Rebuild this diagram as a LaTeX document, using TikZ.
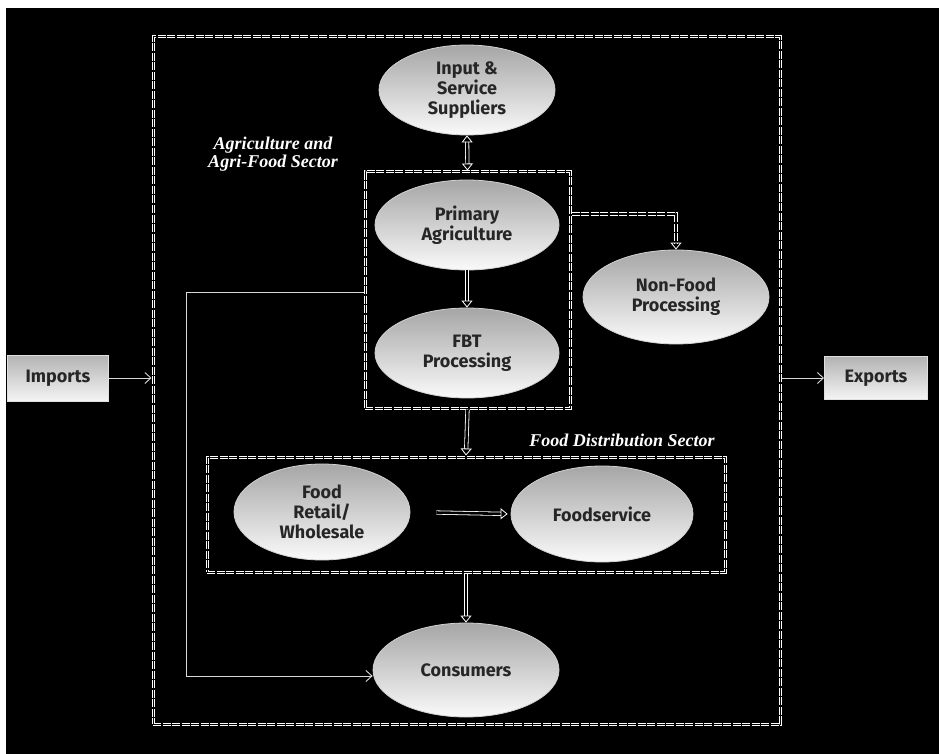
\documentclass[tikz,border=0pt]{standalone}
\usepackage{fontspec}
\setmainfont{Fira Sans}
\newfontfamily\labfont{Liberation Serif}
\usetikzlibrary{shapes.geometric,arrows.meta}
\begin{document}
\begin{tikzpicture}[x=1pt,y=-1pt,
  oval/.style={ellipse, draw=gray!35, line width=0.8pt, top color=gray!70, bottom color=gray!4,
    font=\fontsize{18}{20}\selectfont\bfseries, text=black!85, align=center, inner sep=0pt},
  sbox/.style={rectangle, draw=gray!25, line width=1pt, top color=gray!60, bottom color=gray!8,
    font=\fontsize{18}{20}\selectfont\bfseries, text=black!85, inner sep=0pt},
  zone/.style={rectangle, draw=white, line width=3pt, dash pattern=on 8pt off 1.5pt, inner sep=0pt,
    postaction={draw=black, line width=1pt, dash pattern=on 8pt off 1.5pt}},
  dbl/.style={draw=white, double=black, double distance=2.6pt, line width=0.8pt,
    -{Triangle[open, length=7pt, width=11pt]}},
  thinarr/.style={draw=white!85!black, line width=0.9pt, -{Straight Barb[length=6pt, width=11pt]}},
  lab/.style={text=white, font=\labfont\fontsize{18}{18}\selectfont\bfseries\itshape, align=center}
]
\useasboundingbox (0,0) rectangle (939,754);
\fill[white] (0,0) rectangle (939,754);
\fill[black] (6,8) rectangle (939,754);

% zones
\node[zone, minimum width=627pt, minimum height=687pt] (outer) at (466.5,380.5) {};
\node[zone, minimum width=205pt, minimum height=236pt] (agri) at (467.5,290) {};
\node[zone, minimum width=518pt, minimum height=115pt] (dist) at (466,514.5) {};

% ellipses
\node[oval, minimum width=176pt, minimum height=90pt] (input) at (467,90) {Input \&\\Service\\Suppliers};
\node[oval, minimum width=184pt, minimum height=90pt] (prim) at (467,225) {Primary\\Agriculture};
\node[oval, minimum width=184pt, minimum height=90pt] (fbt) at (467,353) {FBT\\Processing};
\node[oval, minimum width=186pt, minimum height=94pt] (nonfood) at (676,297) {Non-Food\\Processing};
\node[oval, minimum width=176pt, minimum height=96pt] (retail) at (322,512) {Food\\Retail/\\Wholesale};
\node[oval, minimum width=182pt, minimum height=96pt] (fserv) at (602,514) {Foodservice};
\node[oval, minimum width=186pt, minimum height=94pt] (cons) at (466,670) {Consumers};

% side boxes
\node[sbox, minimum width=101pt, minimum height=46pt] (imports) at (58,378) {Imports};
\node[sbox, minimum width=103pt, minimum height=43pt] (exports) at (876,378) {Exports};

% labels
\node[lab] (agrilab) at (273,154) {Agriculture and\\Agri-Food Sector};
\node[lab] (distlab) at (622,440) {Food Distribution Sector};

% double arrows
\draw[dbl, {Triangle[open, length=7pt, width=11pt]}-{Triangle[open, length=7pt, width=11pt]}] (input.south) -- (agri.north);
\draw[dbl] (prim.south) -- (fbt.north);
\draw[dbl] (agri.south) -- (dist.north);
\draw[dbl] (dist.south) -- (cons.north);
\draw[dbl, shorten <=26pt, shorten >=3pt] (retail.east) -- (fserv.west);
\draw[dbl, dash pattern=on 8pt off 1.5pt] ([yshift=11pt]agri.east |- prim.center) -| (nonfood.north);

% thin connectors
\coordinate (lc) at (186,292);
\coordinate (lb) at (186,676);
\draw[thinarr] (agri.west |- lc) -- (lc) -- (lb) -- (cons.west |- lb);
\draw[thinarr] (imports.east) -- (outer.west |- imports.east);
\draw[thinarr] (outer.east |- exports.west) -- (exports.west);
\end{tikzpicture}
\end{document}
